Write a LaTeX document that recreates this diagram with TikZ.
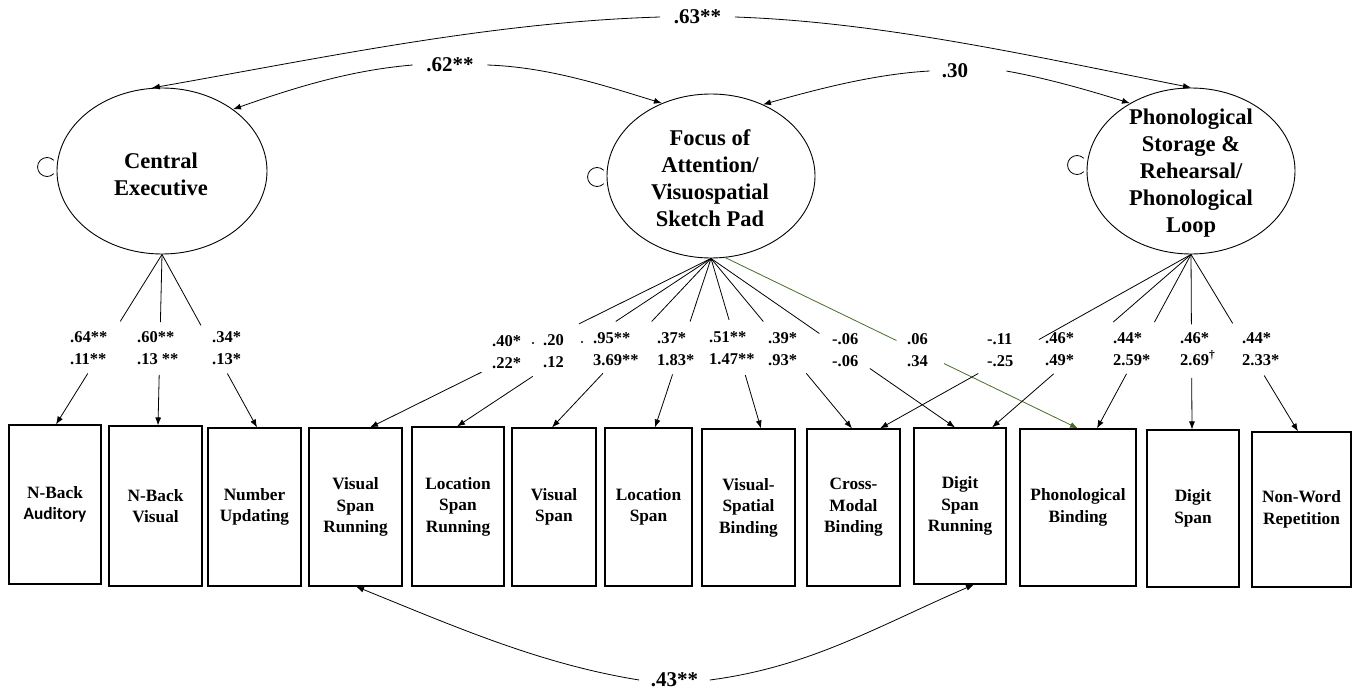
\documentclass[tikz,border=0pt]{standalone}
\usepackage{fontspec}
\setmainfont{Liberation Serif}
\newfontfamily\calfont{Carlito}
\usetikzlibrary{arrows.meta,shapes.geometric,calc}
\definecolor{grn}{RGB}{70,110,40}
\newcommand\ld[5]{%
  \draw[conn,#1] (#2) -- ($(#2)!#4!(#3)$);
  \draw[arr,#1] ($(#2)!#5!(#3)$) -- (#3);}
\begin{document}
\begin{tikzpicture}[x=1pt,y=-1pt,
  latent/.style={draw, ellipse, inner sep=0, line width=0.9pt},
  lattext/.style={font=\fontsize{22.5}{27}\selectfont\bfseries, align=center, inner sep=0},
  obs/.style={draw, rectangle, inner sep=0, line width=1.1pt, font=\fontsize{17.3}{21.5}\selectfont\bfseries, align=center},
  lab/.style={font=\fontsize{16.5}{21.5}\selectfont\bfseries, align=left, anchor=west, inner sep=0},
  toplab/.style={font=\fontsize{21}{24}\selectfont\bfseries, inner ysep=0},
  conn/.style={line width=0.8pt},
  arr/.style={conn, -{Latex[length=8pt,width=6pt]}}
]
\useasboundingbox (0,0) rectangle (1360,690);

% latent variables
\node[latent, minimum width=210, minimum height=166] (CE) at (162,171) {};
\node[latent, minimum width=208, minimum height=164] (FoA) at (711,176) {};
\node[latent, minimum width=208, minimum height=166] (Phon) at (1191,171) {};
\node[lattext] (CEt) at (161,174) {Central\\Executive};
\node[lattext] (FoAt) at (710,178) {Focus of\\Attention/\\Visuospatial\\Sketch Pad};
\node[lattext] (Phont) at (1191,173) {Phonological\\Storage \&\\Rehearsal/\\Phonological\\Loop};

% self loops
\draw[conn] ([yshift=4]CE.west) ++(-9.5,0) ++(45:9.5) arc[start angle=45, end angle=315, radius=9.5];
\draw[conn] ([yshift=-1]FoA.west) ++(-9.5,0) ++(45:9.5) arc[start angle=45, end angle=315, radius=9.5];
\draw[conn] ([yshift=6]Phon.west) ++(-9.5,0) ++(45:9.5) arc[start angle=45, end angle=315, radius=9.5];

% observed boxes
\node[obs, minimum width=92, minimum height=159] (b1) at (55,504.5) {N-Back\\{\calfont Auditory}};
\node[obs, minimum width=93, minimum height=160] (b2) at (155.5,506) {N-Back\\Visual};
\node[obs, minimum width=93, minimum height=158] (b3) at (254.5,507) {Number\\Updating};
\node[obs, minimum width=93, minimum height=158] (b4) at (355.5,507) {Visual\\Span\\Running};
\node[obs, minimum width=92, minimum height=159] (b5) at (458,506.5) {Location\\Span\\Running};
\node[obs, minimum width=84, minimum height=158] (b6) at (554,507) {Visual\\Span};
\node[obs, minimum width=87, minimum height=158] (b7) at (648.5,507) {Location\\Span};
\node[obs, minimum width=93, minimum height=157] (b8) at (748.5,507.5) {Visual-\\Spatial\\Binding};
\node[obs, minimum width=93, minimum height=157] (b9) at (853.5,507.5) {Cross-\\Modal\\Binding};
\node[obs, minimum width=92, minimum height=156] (b10) at (960,506) {Digit\\Span\\Running};
\node[obs, minimum width=116, minimum height=157] (b11) at (1078,507.5) {Phonological\\Binding};
\node[obs, minimum width=92, minimum height=157] (b12) at (1193,508.5) {Digit\\Span};
\node[obs, minimum width=99, minimum height=155] (b13) at (1301.5,509.5) {Non-Word\\Repetition};

% target points on boxes
\coordinate (t1) at ([xshift=1]b1.north);
\coordinate (t2) at ([xshift=2.5]b2.north);
\coordinate (t3) at ([xshift=2.5]b3.north);
\coordinate (t4) at ([xshift=14.5]b4.north);
\coordinate (t5) at ([xshift=-1]b5.north);
\coordinate (t6) at ([xshift=-2]b6.north);
\coordinate (t7) at ([xshift=6.5]b7.north);
\coordinate (t8) at ([xshift=12.5]b8.north);
\coordinate (t9a) at ([xshift=-1.5]b9.north);
\coordinate (t9b) at ([xshift=26.5]b9.north);
\coordinate (t10a) at ([xshift=-5]b10.north);
\coordinate (t10b) at ([xshift=32]b10.north);
\coordinate (t11a) at (b11.north);
\coordinate (t11b) at ([xshift=19]b11.north);
\coordinate (t12) at ([xshift=-1]b12.north);
\coordinate (t13) at ([xshift=-3.5]b13.north);
\coordinate (FoAg) at (FoA.-80);

% loadings
\ld{}{CE.south}{t1}{0.394}{0.70}
\ld{}{CE.south}{t2}{0.396}{0.704}
\ld{}{CE.south}{t3}{0.41}{0.688}
\ld{}{FoA.south}{t4}{0.387}{0.673}
\ld{}{FoA.south}{t5}{0.375}{0.702}
\ld{}{FoA.south}{t6}{0.373}{0.68}
\ld{}{FoA.south}{t7}{0.373}{0.686}
\ld{}{FoA.south}{t8}{0.361}{0.686}
\ld{}{FoA.south}{t9a}{0.371}{0.676}
\ld{}{FoA.south}{t10a}{0.444}{0.651}
\ld{draw=grn}{FoAg}{t11a}{0.485}{0.62}
\ld{}{Phon.south}{t9b}{0.489}{0.684}
\ld{}{Phon.south}{t10b}{0.391}{0.69}
\ld{}{Phon.south}{t11b}{0.389}{0.686}
\ld{}{Phon.south}{t12}{0.399}{0.705}
\ld{}{Phon.south}{t13}{0.39}{0.684}

% loading labels
\node[lab] (l1) at (70,348) {.64**\\.11**};
\node[lab] (l2) at (137,348) {.60**\\.13 **};
\node[lab] (l3) at (212,348) {.34*\\.13*};
\node[lab] (l4) at (492,352) {.40*\\.22*};
\node[lab] (l5) at (543,351) {.20\\.12};
\node[lab] (l6) at (593,349) {.95**\\3.69**};
\node[lab] (l7) at (657,349) {.37*\\1.83*};
\node[lab] (l8) at (709,348) {.51**\\1.47**};
\node[lab] (l9) at (768,349) {.39*\\.93*};
\node[lab] (l10) at (832,350) {-.06\\-.06};
\node[lab] (l11) at (907,350) {.06\\.34};
\node[lab] (l12) at (987,350) {-.11\\-.25};
\node[lab] (l13) at (1045,349) {.46*\\.49*};
\node[lab] (l14) at (1113,349) {.44*\\2.59*};
\node[lab] (l15) at (1180,349) {.46*\\2.69\textsuperscript{†}};
\node[lab] (l16) at (1242,349) {.44*\\2.33*};
\fill (533,343) circle[radius=1.2];
\fill (582,342) circle[radius=1.2];

% covariances
\node[toplab, inner xsep=13.5] (lbl63) at (697.5,17) {.63**};
\node[toplab, inner xsep=13.5] (lbl62) at (450,65) {.62**};
\node[toplab, inner xsep=12] (lbl30) at (955,71) {.30};
\node[toplab, inner xsep=11.5] (lbl43) at (674.5,680) {.43**};

\draw[arr] (lbl63.west) .. controls (491,22) and (322,58) .. (CE.97);
\draw[arr] (lbl63.east) .. controls (884,22) and (1041,58) .. (Phon.90);
\draw[arr] (lbl62.west) .. controls (353,70) and (299,86) .. (CE.41);
\draw[arr] (lbl62.east) .. controls (547,67) and (603,85) .. (FoA.124);
\draw[arr] (lbl30.west) .. controls (875,74) and (818,89) .. (FoA.54);
\draw[arr] ([xshift=26]lbl30.east) .. controls (1046,78) and (1091,91) .. (Phon.132);
\draw[arr] (lbl43.west) .. controls (540,664) and (456,627) .. ([xshift=0.5]b4.south);
\draw[arr] (lbl43.east) .. controls (809,667) and (874,628) .. ([xshift=14]b10.south);
\end{tikzpicture}
\end{document}
